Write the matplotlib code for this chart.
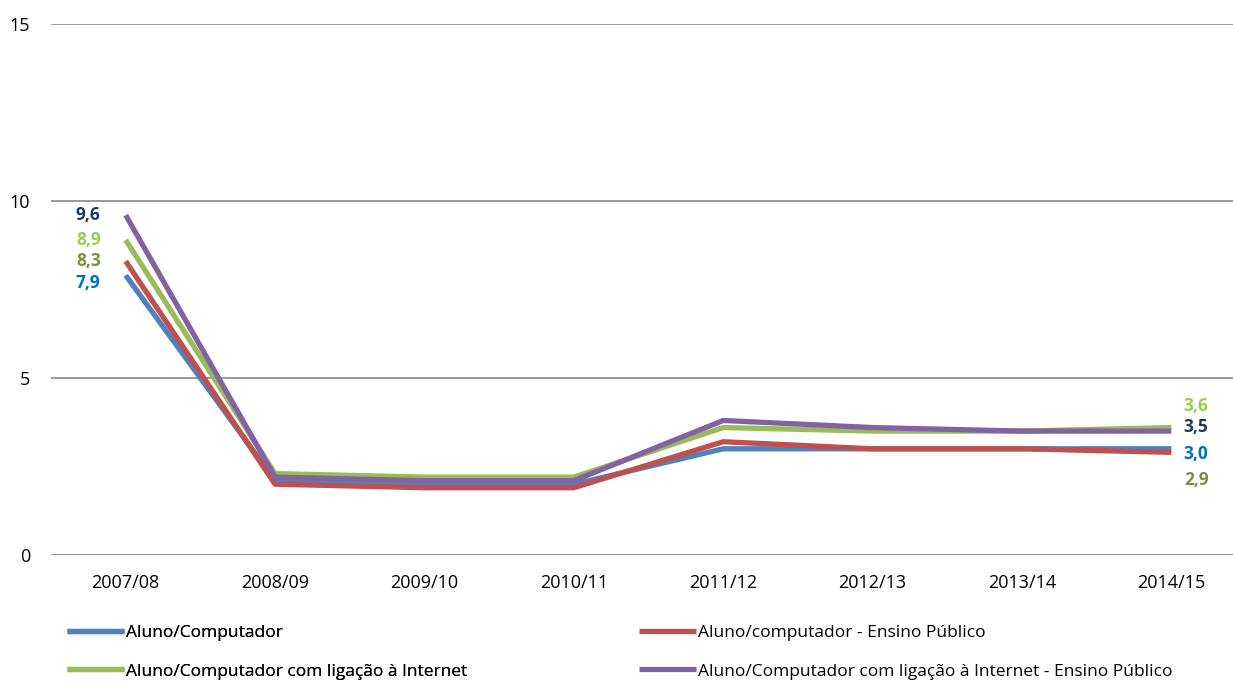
import matplotlib
matplotlib.use("Agg")
import matplotlib.pyplot as plt

years = ["2007/08", "2008/09", "2009/10", "2010/11", "2011/12", "2012/13", "2013/14", "2014/15"]
aluno_comp = [7.9, 2.1, 2.0, 2.0, 3.0, 3.0, 3.0, 3.0]
aluno_comp_pub = [8.3, 2.0, 1.9, 1.9, 3.2, 3.0, 3.0, 2.9]
aluno_net = [8.9, 2.3, 2.2, 2.2, 3.6, 3.5, 3.5, 3.6]
aluno_net_pub = [9.6, 2.2, 2.1, 2.1, 3.8, 3.6, 3.5, 3.5]
names = ["Aluno/Computador", "Aluno/computador - Ensino Público",
         "Aluno/Computador com ligação à Internet",
         "Aluno/Computador com ligação à Internet - Ensino Público"]

series = [aluno_comp, aluno_comp_pub, aluno_net, aluno_net_pub]
colors = ["#4F81BD", "#C0504D", "#9BBB59", "#8064A2"]
# label colours and offsets (pixels) for first / last values
lab_colors = ["#0070C0", "#77933C", "#92D050", "#1F3864"]
start_dy = [-8, 0, 0, 0]
end_dy = [-5, -28, 22, 4]

plt.rcParams['font.family'] = ['Open Sans', 'DejaVu Sans']
fig = plt.figure(figsize=(12.33, 6.84), dpi=100)
W, H = 1233, 684
ax = fig.add_axes([51 / W, 129 / H, 1195 / W, 531 / H])

x = list(range(len(years)))
lines = []
for s, c, n in zip(series, colors, names):
    ln, = ax.plot(x, s, color=c, lw=3.8, label=n, solid_capstyle="butt")
    lines.append(ln)

for s, lc, d0, d1 in zip(series, lab_colors, start_dy, end_dy):
    ax.annotate(f"{s[0]:.1f}".replace(".", ","), (x[0], s[0]), xytext=(-18, d0 * 0.72),
                textcoords="offset points", ha="right", va="center",
                fontsize=12.5, fontweight="bold", color=lc)
    ax.annotate(f"{s[-1]:.1f}".replace(".", ","), (x[-1], s[-1]), xytext=(9, d1 * 0.72),
                textcoords="offset points", ha="left", va="center",
                fontsize=12.5, fontweight="bold", color=lc)

ax.set_xlim(-0.5, len(years) - 0.5)
ax.set_ylim(0, 15)
ax.set_yticks([0, 5, 10, 15])
ax.set_xticks(x)
ax.set_xticklabels(years)
ax.yaxis.grid(True, color="#888888", lw=1.2)
ax.set_axisbelow(True)
for sp in ax.spines.values():
    sp.set_visible(False)
ax.tick_params(axis="both", length=0, labelsize=13, colors="#000000")
ax.tick_params(axis="y", pad=15)
ax.tick_params(axis="x", pad=14)

leg_kw = dict(loc="upper left", frameon=False, fontsize=12.5, handlelength=3.3,
              handletextpad=0.1, labelspacing=1.3)
leg1 = fig.legend([lines[0], lines[2]], [names[0], names[2]],
                  bbox_to_anchor=(51 / W, 1 - 609 / H), **leg_kw)
leg2 = fig.legend([lines[1], lines[3]], [names[1], names[3]],
                  bbox_to_anchor=(623 / W, 1 - 609 / H), **leg_kw)
fig.add_artist(leg1)

fig.savefig("out.png", dpi=100)
